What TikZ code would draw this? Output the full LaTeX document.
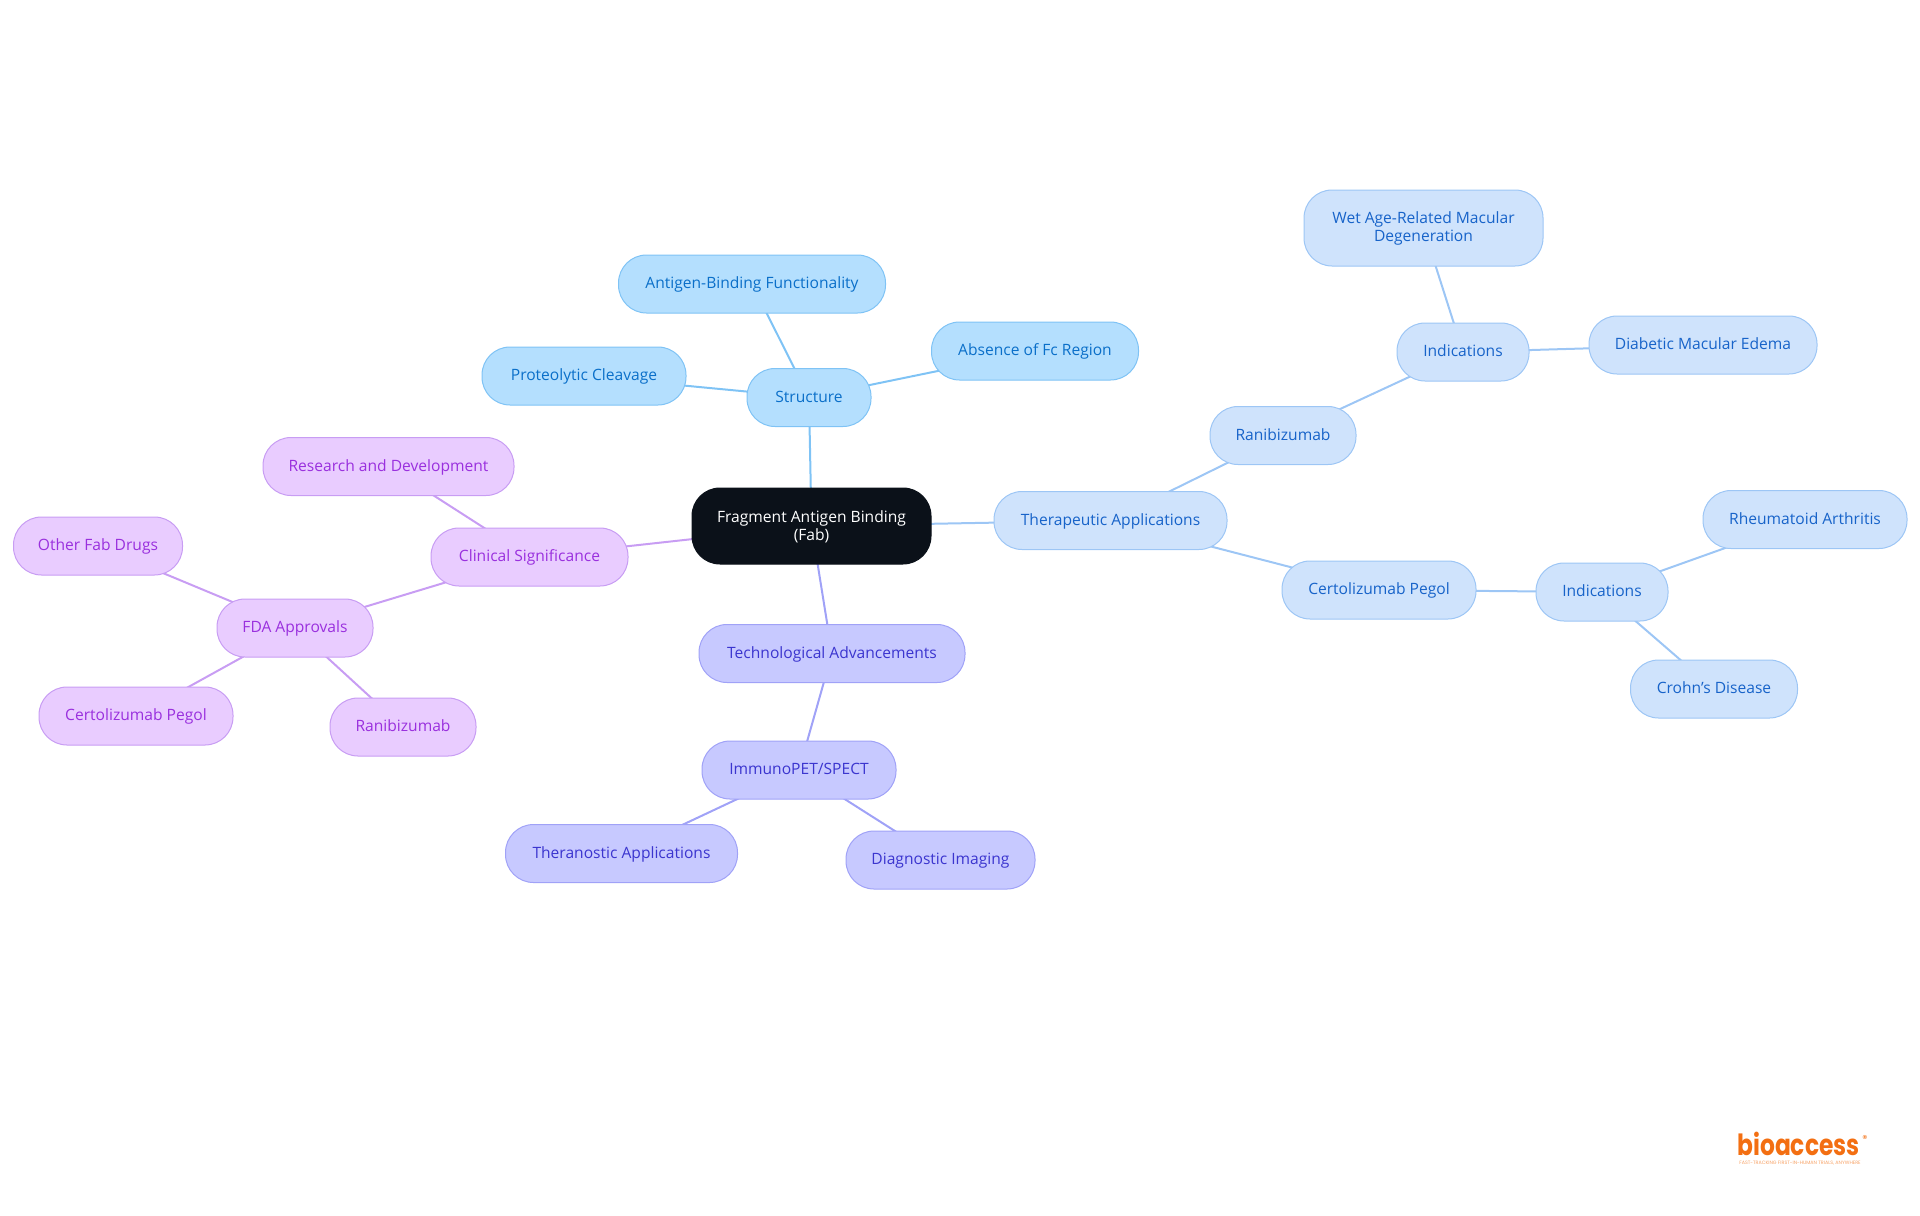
\documentclass[tikz,border=0pt]{standalone}
\usepackage{fontspec}
\setmainfont{Open Sans}
\newfontfamily\logofont[FakeStretch=0.8]{Poppins}
\newfontfamily\tagfont{Poppins}
\usetikzlibrary{backgrounds}
\definecolor{rootfill}{HTML}{0B1119}
\definecolor{skyfill}{HTML}{B4DFFE}
\definecolor{skyline}{HTML}{7FC3F5}
\definecolor{skytext}{HTML}{0A6FC9}
\definecolor{bluefill}{HTML}{CFE3FC}
\definecolor{blueline}{HTML}{9DC6F5}
\definecolor{bluetext}{HTML}{1763C9}
\definecolor{indigofill}{HTML}{C7C9FF}
\definecolor{indigoline}{HTML}{A0A2F7}
\definecolor{indigotext}{HTML}{3B35CF}
\definecolor{purplefill}{HTML}{E9CCFF}
\definecolor{purpleline}{HTML}{C89DF3}
\definecolor{purpletext}{HTML}{9A30DE}
\definecolor{logoorange}{HTML}{F36F12}
\tikzset{
  mapbox/.style={rectangle,rounded corners=14pt,inner sep=0pt,minimum height=29pt,align=center,
    text height=6.2pt,text depth=1.5pt,line width=0.5pt,font=\fontsize{7.8}{9}\selectfont},
  boxw/.style={minimum width=#1*0.5pt},
  twoline/.style={text height=,text depth=#1,minimum height=38pt},
  rootbox/.style={mapbox,fill=rootfill,draw=rootfill,text=white,twoline=0.5pt},
  skybox/.style={mapbox,fill=skyfill,draw=skyline,text=skytext},
  bluebox/.style={mapbox,fill=bluefill,draw=blueline,text=bluetext},
  indigobox/.style={mapbox,fill=indigofill,draw=indigoline,text=indigotext},
  purplebox/.style={mapbox,fill=purplefill,draw=purpleline,text=purpletext},
  link/.style={line width=1pt}
}
\begin{document}
\begin{tikzpicture}[x=0.5pt,y=-0.5pt]
\useasboundingbox (0,0) rectangle (1920,1215);
\node[rootbox,boxw=239] (fab) at (811.5,526) {Fragment Antigen Binding\\(Fab)};
\node[skybox,boxw=124] (structure) at (809,397.5) {Structure};
\node[skybox,boxw=267] (antigen) at (752,284) {Antigen-Binding Functionality};
\node[skybox,boxw=207] (absence) at (1035,351) {Absence of Fc Region};
\node[skybox,boxw=204] (cleavage) at (584,376) {Proteolytic Cleavage};
\node[bluebox,boxw=233] (therapy) at (1110.5,520.5) {Therapeutic Applications};
\node[bluebox,boxw=146] (rani) at (1283,435.5) {Ranibizumab};
\node[bluebox,boxw=132] (indone) at (1463,352) {Indications};
\node[bluebox,boxw=239,twoline=1pt] (wet) at (1423.5,228) {Wet Age-Related Macular\\Degeneration};
\node[bluebox,boxw=228] (edema) at (1703,345) {Diabetic Macular Edema};
\node[bluebox,boxw=194] (certo) at (1379,590) {Certolizumab Pegol};
\node[bluebox,boxw=132] (indtwo) at (1602,592) {Indications};
\node[bluebox,boxw=204] (arthritis) at (1805,519.5) {Rheumatoid Arthritis};
\node[bluebox,boxw=167] (crohn) at (1714,689) {Crohn's Disease};
\node[indigobox,boxw=266] (tech) at (832,653.5) {Technological Advancements};
\node[indigobox,boxw=194] (immuno) at (799,770) {ImmunoPET/SPECT};
\node[indigobox,boxw=232] (thera) at (621.5,853.5) {Theranostic Applications};
\node[indigobox,boxw=189] (imaging) at (940.5,860) {Diagnostic Imaging};
\node[purplebox,boxw=197] (clinical) at (529.5,557) {Clinical Significance};
\node[purplebox,boxw=251] (research) at (388.5,466.5) {Research and Development};
\node[purplebox,boxw=156] (fda) at (295,628) {FDA Approvals};
\node[purplebox,boxw=169] (otherfab) at (98,546) {Other Fab Drugs};
\node[purplebox,boxw=194] (certop) at (136,716) {Certolizumab Pegol};
\node[purplebox,boxw=146] (ranip) at (403,727) {Ranibizumab};
\node[text=logoorange,inner sep=0pt,font=\logofont\bfseries\fontsize{14.6}{15}\selectfont] (logo) at (1798.5,1144) {bioaccess};
\node[text=logoorange,inner sep=0pt,font=\tagfont\fontsize{5}{5}\selectfont] (mark) at (1865,1139) {®};
\node[text=logoorange!65,inner sep=0pt,font=\tagfont\fontsize{2.4}{3}\selectfont] (tagline) at (1800,1163) {FAST-TRACKING FIRST-IN-HUMAN TRIALS, ANYWHERE};
\begin{scope}[on background layer]
\foreach \a/\b in {fab/structure,structure/antigen,structure/absence,structure/cleavage}
  \draw[link,skyline] (\a.center) -- (\b.center);
\foreach \a/\b in {fab/therapy,therapy/rani,rani/indone,indone/wet,indone/edema,therapy/certo,certo/indtwo,indtwo/arthritis,indtwo/crohn}
  \draw[link,blueline] (\a.center) -- (\b.center);
\foreach \a/\b in {fab/tech,tech/immuno,immuno/thera,immuno/imaging}
  \draw[link,indigoline] (\a.center) -- (\b.center);
\foreach \a/\b in {fab/clinical,clinical/research,clinical/fda,fda/otherfab,fda/certop,fda/ranip}
  \draw[link,purpleline] (\a.center) -- (\b.center);
\end{scope}
\end{tikzpicture}
\end{document}
